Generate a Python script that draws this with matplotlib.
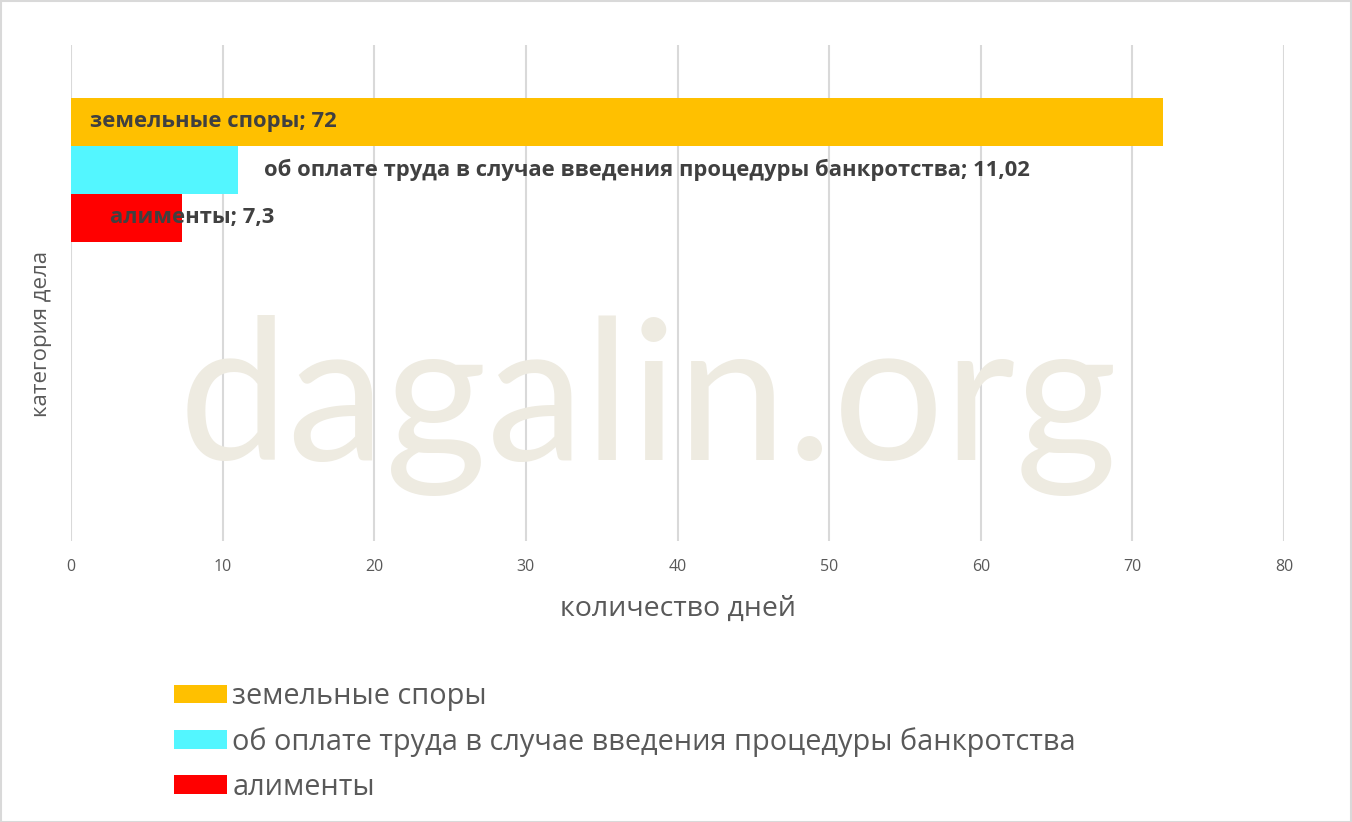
import matplotlib
matplotlib.use('Agg')
import matplotlib.pyplot as plt
from matplotlib.patches import Patch, Rectangle

# данные
categories = ['земельные споры',
              'об оплате труда в случае введения процедуры банкротства',
              'алименты']
days = [72, 11.02, 7.3]
value_labels = ['72', '11,02', '7,3']
colors = ['#FFC000', '#53F6FF', '#FF0000']
label_x = [1.25, 12.7, 2.6]   # где Excel поставил подписи
x_ticks = [0, 10, 20, 30, 40, 50, 60, 70, 80]

plt.rcParams['font.family'] = ['Open Sans', 'DejaVu Sans']

W, H = 1352, 822
fig = plt.figure(figsize=(W / 100, H / 100), dpi=100)
fig.patch.set_facecolor('white')
fig.add_artist(Rectangle((0.5 / W, 0.5 / H), 1 - 2 / W, 1 - 2 / H, transform=fig.transFigure,
                         fill=False, edgecolor='#D9D9D9', linewidth=1.5))

left, right, top, bottom = 71, 1284, 45, 541
ax = fig.add_axes([left / W, 1 - bottom / H, (right - left) / W, (bottom - top) / H])

# водяной знак
fig.text(648 / W, 1 - 405 / H, 'dagalin.org', fontsize=141, color='#EEEBE1',
         family=['Lato', 'DejaVu Sans'], ha='center', va='center', zorder=0)
ax.patch.set_alpha(0)

ypos = list(range(len(days)))
ax.barh(ypos, days, height=1.0, color=colors, zorder=3)
for y, x, cat, val in zip(ypos, label_x, categories, value_labels):
    ax.text(x, y, f'{cat}; {val}', fontsize=15.8, fontweight='bold', color='#404040',
            va='center', ha='left', zorder=4)

ax.set_xlim(0, 80)
ax.set_ylim(8.73, -1.6)
ax.set_xticks(x_ticks)
ax.set_yticks([])
ax.grid(axis='x', color='#D9D9D9', linewidth=1.5, zorder=1)
ax.set_axisbelow(True)
for s in ax.spines.values():
    s.set_visible(False)
ax.tick_params(axis='x', length=0, pad=13, labelsize=11.5, labelcolor='#595959')
ax.set_xlabel('количество дней', fontsize=20.5, color='#595959', labelpad=14)
ax.set_ylabel('категория дела', fontsize=16, color='#595959')
ax.yaxis.set_label_coords(-19 / (right - left), 1 - (334 - top) / (bottom - top))

handles = [Patch(facecolor=c) for c in colors]
fig.legend(handles, categories, loc='upper left', bbox_to_anchor=(174 / W, 1 - 682 / H),
           frameon=False, fontsize=20.8, labelcolor='#595959', handlelength=1.82,
           handleheight=0.6, handletextpad=0.2, labelspacing=0.55,
           borderpad=0, borderaxespad=0)

fig.savefig('out.png', dpi=100)
